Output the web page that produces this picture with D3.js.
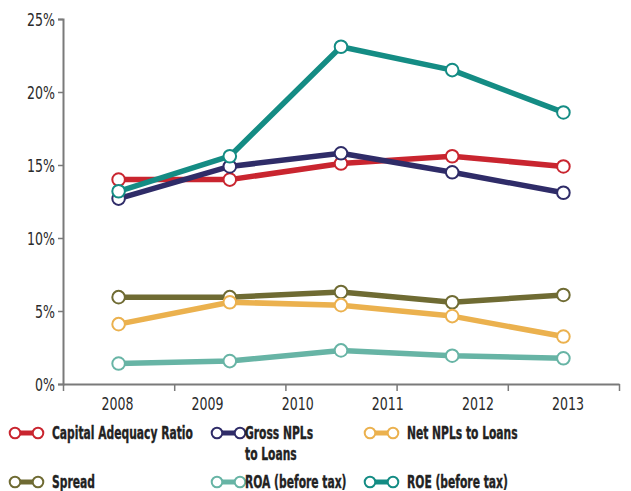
<!DOCTYPE html>
<html>
<head>
<meta charset="utf-8">
<script src="https://cdn.jsdelivr.net/npm/d3@7"></script>
<style>
  html, body { margin: 0; padding: 0; background: #fff; }
  svg { display: block; }
  text { font-family: "Liberation Sans Narrow", "DejaVu Sans Condensed", "Roboto Condensed", sans-serif; }
</style>
</head>
<body>
<svg id="chart" width="631" height="491"></svg>
<script>
// Year labels along the bottom axis
const years = ["2008", "2009", "2010", "2011", "2012", "2013"];
// Observation slots (one per plotted point)
const periods = [0, 1, 2, 3, 4];
// Y axis ticks (percent)
const yTicks = [0, 5, 10, 15, 20, 25];

// Series values (%)
const capitalAdequacy = [14.0, 14.0, 15.1, 15.6, 14.9];
const grossNPLs      = [12.7, 14.9, 15.8, 14.5, 13.1];
const netNPLs        = [4.1, 5.6, 5.4, 4.65, 3.25];
const spread         = [5.95, 5.95, 6.3, 5.6, 6.1];
const roa            = [1.4, 1.57, 2.3, 1.94, 1.76];
const roe            = [13.2, 15.6, 23.1, 21.5, 18.6];

const seriesNames  = ["Capital Adequacy Ratio", "Gross NPLs\nto Loans", "Net NPLs to Loans", "Spread", "ROA (before tax)", "ROE (before tax)"];
const seriesValues = [capitalAdequacy, grossNPLs, netNPLs, spread, roa, roe];
const seriesColors = ["#c9252f", "#2f2c68", "#ebb14e", "#6f6b33", "#67b4a5", "#148c84"];
// Drawing order (back to front)
const drawOrder = [3, 2, 4, 0, 1, 5];

const svg = d3.select("#chart");
const plotLeft = 63, plotRight = 619, plotTop = 19, plotBottom = 384;
const FONT = "'Liberation Sans Narrow', 'DejaVu Sans Condensed', sans-serif";

// Horizontal squeeze so the available sans faces read like a condensed face
function squeezeFactor(sample, size, weight, target) {
  const t = svg.append("text").attr("font-size", size).attr("font-weight", weight)
    .style("font-family", FONT).text(sample);
  const w = t.node().getComputedTextLength();
  t.remove();
  return target / w;
}
const tickSqueeze = squeezeFactor("2008", 18, "normal", 32);
const legendSqueeze = squeezeFactor("Capital Adequacy Ratio", 17, "bold", 141);

const x = d3.scaleBand().domain(periods).range([plotLeft, plotRight]);
const xYears = d3.scalePoint().domain(years).range([117.5, 568]);
const y = d3.scaleLinear().domain([0, 25]).range([plotBottom, plotTop]);

// Y axis
const yAxis = svg.append("g")
  .attr("transform", `translate(${plotLeft},0)`)
  .call(d3.axisLeft(y).tickValues(yTicks).tickFormat(d => d + "%").tickSize(5).tickPadding(4));
yAxis.select(".domain").attr("stroke", "#7a7a7a").attr("stroke-width", 2);
yAxis.selectAll(".tick line").attr("stroke", "#7a7a7a").attr("stroke-width", 1.5);
yAxis.selectAll(".tick text")
  .attr("font-size", 18).attr("fill", "#2a2a2a").attr("x", 0).attr("dy", "0.36em")
  .style("font-family", FONT)
  .attr("transform", `translate(-8,0) scale(${tickSqueeze},1)`);

// X axis: band boundaries as ticks, years as labels
const boundaries = periods.map(p => x(p)).concat([x(periods[periods.length - 1]) + x.bandwidth()]);
const xLin = d3.scaleLinear().domain([plotLeft, plotRight]).range([plotLeft, plotRight]);
const xAxis = svg.append("g")
  .attr("transform", `translate(0,${plotBottom})`)
  .call(d3.axisBottom(xLin).tickValues(boundaries).tickFormat("").tickSize(7).tickSizeOuter(0));
xAxis.select(".domain").attr("stroke", "#7a7a7a").attr("stroke-width", 2);
xAxis.selectAll(".tick line").attr("stroke", "#7a7a7a").attr("stroke-width", 1.5);

svg.append("g").selectAll("text").data(years).join("text")
  .attr("transform", d => `translate(${xYears(d)},409.5) scale(${tickSqueeze},1)`)
  .attr("text-anchor", "middle").attr("font-size", 18).attr("fill", "#2a2a2a")
  .text(d => d);

// Lines and markers
const line = d3.line().x((d, i) => x(periods[i]) + x.bandwidth() / 2).y(d => y(d));
const plot = svg.append("g");
drawOrder.forEach(k => {
  const g = plot.append("g");
  g.append("path").datum(seriesValues[k])
    .attr("d", line).attr("fill", "none")
    .attr("stroke", seriesColors[k]).attr("stroke-width", 5.5)
    .attr("stroke-linejoin", "round");
  g.selectAll("circle").data(seriesValues[k]).join("circle")
    .attr("cx", (d, i) => x(periods[i]) + x.bandwidth() / 2)
    .attr("cy", d => y(d))
    .attr("r", 6.3)
    .attr("fill", "#fff").attr("stroke", seriesColors[k]).attr("stroke-width", 2);
});

// Legend
const legendPos = [[10, 433], [212, 433], [365, 433], [10, 482], [212, 482], [365, 482]];
const textGap = [42, 33, 42, 42, 33, 42];
seriesNames.forEach((name, k) => {
  const [lx, ly] = legendPos[k];
  const g = svg.append("g").attr("transform", `translate(${lx},${ly})`);
  g.append("line").attr("x1", 5).attr("x2", 28).attr("y1", 0).attr("y2", 0)
    .attr("stroke", seriesColors[k]).attr("stroke-width", 5);
  [5, 28].forEach(cx => g.append("circle").attr("cx", cx).attr("cy", 0).attr("r", 5.3)
    .attr("fill", "#fff").attr("stroke", seriesColors[k]).attr("stroke-width", 2));
  const t = g.append("text")
    .attr("transform", `translate(${textGap[k]},6) scale(${legendSqueeze},1)`)
    .attr("font-size", 17).attr("font-weight", "bold").attr("fill", "#222")
    .attr("stroke", "#222").attr("stroke-width", 0.35);
  name.split("\n").forEach((part, j) => {
    t.append("tspan").attr("x", 0).attr("dy", j === 0 ? 0 : 21).text(part);
  });
});
</script>
</body>
</html>
